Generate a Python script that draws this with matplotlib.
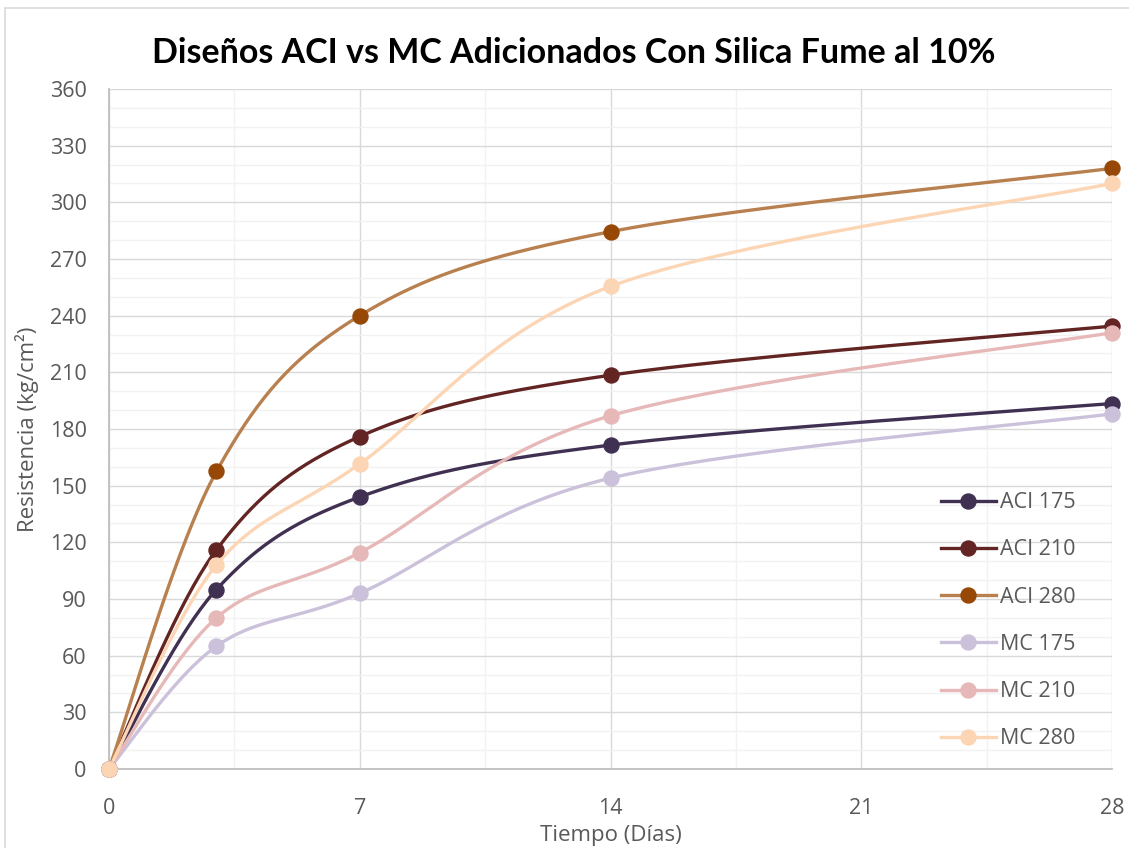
import numpy as np
import matplotlib
matplotlib.use("Agg")
import matplotlib.pyplot as plt
from matplotlib.patches import Rectangle

# curing ages (days)
dias = [0, 3, 7, 14, 28]

# compressive strength (kg/cm2)
aci_175 = [0, 95, 144, 171.5, 193.5]
aci_210 = [0, 116, 176, 208.5, 234.5]
aci_280 = [0, 157.5, 240, 284.5, 318]
mc_175 = [0, 65, 93, 154, 188]
mc_210 = [0, 80, 114.5, 187, 231]
mc_280 = [0, 108, 161.5, 255.5, 310]

series = ['ACI 175', 'ACI 210', 'ACI 280', 'MC 175', 'MC 210', 'MC 280']
valores = [aci_175, aci_210, aci_280, mc_175, mc_210, mc_280]
line_colors = ['#403152', '#632523', '#b9804f', '#ccc1da', '#e6b9b8', '#fcd5b5']
marker_colors = ['#403152', '#632523', '#974806', '#ccc1da', '#e6b9b8', '#fcd5b5']

x_ticks = [0, 7, 14, 21, 28]
y_ticks = list(range(0, 361, 30))


def smooth(xs, ys, n=40):
    # excel-like smoothed line: catmull-rom as cubic bezier segments
    p = np.column_stack([xs, ys]).astype(float)
    out = []
    for i in range(len(p) - 1):
        p0 = p[i - 1] if i > 0 else p[i]
        p3 = p[i + 2] if i + 2 < len(p) else p[i + 1]
        c1 = p[i] + (p[i + 1] - p0) / 6.0
        c2 = p[i + 1] - (p3 - p[i]) / 6.0
        t = np.linspace(0, 1, n)[:, None]
        seg = ((1 - t) ** 3) * p[i] + 3 * ((1 - t) ** 2) * t * c1 \
            + 3 * (1 - t) * t ** 2 * c2 + t ** 3 * p[i + 1]
        out.append(seg if i == 0 else seg[1:])
    out = np.vstack(out)
    return out[:, 0], out[:, 1]


plt.rcParams['font.family'] = ['Open Sans', 'DejaVu Sans']

fig = plt.figure(figsize=(11.29, 8.48), dpi=100)
ax = fig.add_axes([0.0965, 0.0932, 0.8885, 0.8018])

# chart area border
fig.patches.append(Rectangle((5 / 1129, -0.1), 1.2, 1.1 - 8 / 848,
                             transform=fig.transFigure, fill=False,
                             edgecolor='#d9d9d9', linewidth=1.2))

for name, vals, lc, mc in zip(series, valores, line_colors, marker_colors):
    sx, sy = smooth(dias, vals)
    ax.plot(sx, sy, color=lc, linewidth=2.4, solid_capstyle='round', zorder=3)
    ax.plot(dias, vals, linestyle='none', marker='o', markersize=10.8,
            color=mc, zorder=4)
    # legend proxy
    ax.plot([], [], color=lc, linewidth=2.4, marker='o', markersize=10.8,
            markerfacecolor=mc, markeredgecolor=mc, label=name)

ax.set_xlim(0, 28)
ax.set_ylim(0, 360)
ax.set_xticks(x_ticks)
ax.set_yticks(y_ticks)
ax.set_xticks(np.arange(0, 28.1, 3.5), minor=True)
ax.set_yticks(np.arange(0, 361, 10), minor=True)
ax.grid(which='minor', color='#f2f2f2', linewidth=1.0, zorder=0)
ax.grid(which='major', color='#d9d9d9', linewidth=1.0, zorder=1)
ax.set_axisbelow(True)
ax.tick_params(which='both', length=0)
ax.tick_params(axis='x', pad=21, labelsize=15.5, labelcolor='#595959')
ax.tick_params(axis='y', pad=16, labelsize=15.5, labelcolor='#595959')
for s in ['top', 'right']:
    ax.spines[s].set_visible(False)
for s in ['left', 'bottom']:
    ax.spines[s].set_color('#bfbfbf')
    ax.spines[s].set_linewidth(1.3)

for line in ax.lines:
    line.set_clip_on(False)

ax.set_xlabel('Tiempo (Días)', fontsize=16, color='#595959', labelpad=4)
ax.set_ylabel('Resistencia (kg/cm²)', fontsize=16, color='#595959', labelpad=8)

fig.text(0.508, 0.938, 'Diseños ACI vs MC Adicionados Con Silica Fume al 10%',
         ha='center', va='center', fontsize=24.5, fontweight='bold',
         color='black', family=['Lato', 'DejaVu Sans'])

leg = ax.legend(loc='center left', bbox_to_anchor=(0.8295, 0.218), frameon=False,
                fontsize=15.5, labelcolor='#595959', handlelength=2.55,
                handletextpad=0.2, labelspacing=1.22, borderaxespad=0,
                borderpad=0)

fig.savefig('out.png', dpi=100)
